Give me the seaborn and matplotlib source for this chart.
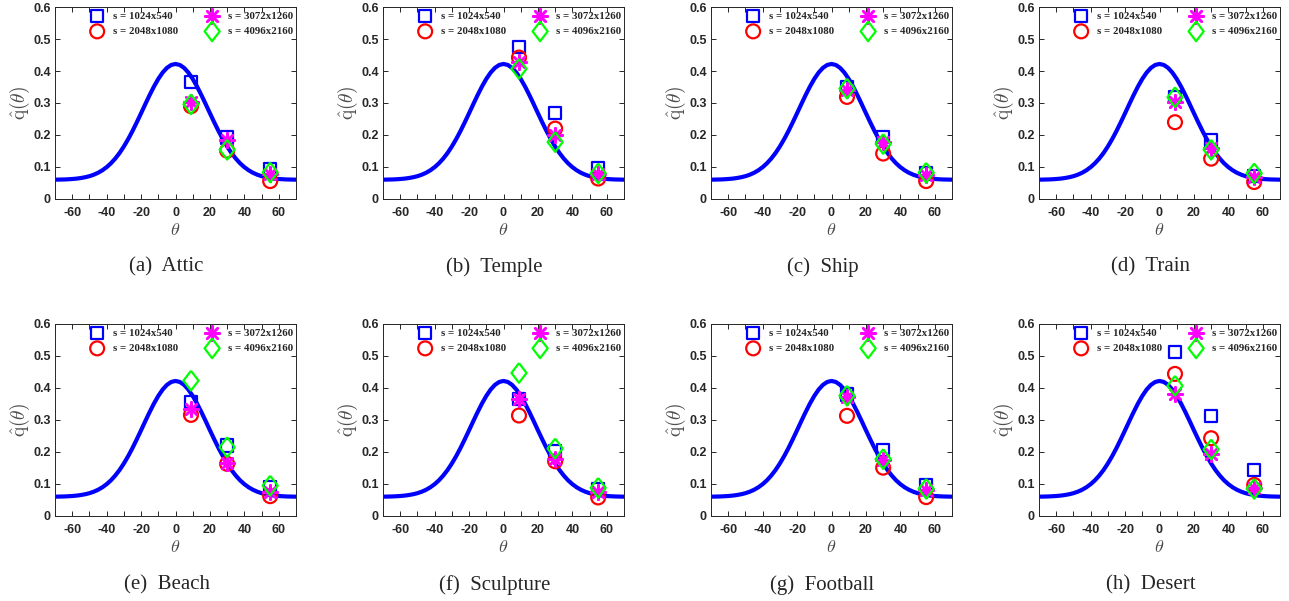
import matplotlib
matplotlib.use("Agg")
import matplotlib.pyplot as plt
import seaborn as sns
import pandas as pd
from matplotlib.ticker import MultipleLocator, FuncFormatter

# ---------------- data ----------------
scenes = ["Attic", "Temple", "Ship", "Train", "Beach", "Sculpture", "Football", "Desert"]
letters = ["a", "b", "c", "d", "e", "f", "g", "h"]
series_labels = ["s = 1024x540", "s = 2048x1080", "s = 3072x1260", "s = 4096x2160"]

theta_pts = [9, 30, 55]

# fitted curve q(theta) (same in every panel)
curve_theta = [-70, -67.5, -65, -62.5, -60, -57.5, -55, -52.5, -50, -47.5, -45, -42.5, -40, -37.5,
               -35, -32.5, -30, -27.5, -25, -22.5, -20, -17.5, -15, -12.5, -10, -7.5, -5, -2.5, 0,
               2.5, 5, 7.5, 10, 12.5, 15, 17.5, 20, 22.5, 25, 27.5, 30, 32.5, 35, 37.5,
               40, 42.5, 45, 47.5, 50, 52.5, 55, 57.5, 60, 62.5, 65, 67.5, 70]
curve_q = [0.0604, 0.0607, 0.0610, 0.0616, 0.0625, 0.0637, 0.0655, 0.0680, 0.0713, 0.0759, 0.0819, 0.0897,
           0.0995, 0.1116, 0.1264, 0.1438, 0.1641, 0.1870, 0.2123, 0.2396, 0.2680, 0.2969, 0.3251, 0.3516,
           0.3752, 0.3949, 0.4097, 0.4189, 0.4220,
           0.4189, 0.4097, 0.3949, 0.3752, 0.3516, 0.3251, 0.2969, 0.2680, 0.2396, 0.2123, 0.1870, 0.1641,
           0.1438, 0.1264, 0.1116, 0.0995, 0.0897, 0.0819, 0.0759, 0.0713, 0.0680, 0.0655, 0.0637, 0.0625,
           0.0616, 0.0610, 0.0607, 0.0604]

# measured points per scene (theta = 9, 30, 55)
q_1024x540 = [[0.365, 0.192, 0.092], [0.475, 0.268, 0.098], [0.350, 0.193, 0.080], [0.318, 0.183, 0.073],
              [0.356, 0.220, 0.090], [0.366, 0.202, 0.085], [0.380, 0.207, 0.098], [0.512, 0.313, 0.143]]
q_2048x1080 = [[0.290, 0.151, 0.056], [0.442, 0.220, 0.064], [0.319, 0.142, 0.056], [0.240, 0.126, 0.053],
               [0.316, 0.163, 0.062], [0.314, 0.171, 0.058], [0.313, 0.151, 0.059], [0.444, 0.243, 0.097]]
q_3072x1260 = [[0.302, 0.184, 0.078], [0.428, 0.200, 0.078], [0.340, 0.178, 0.075], [0.302, 0.158, 0.068],
               [0.334, 0.166, 0.074], [0.366, 0.177, 0.075], [0.371, 0.175, 0.081], [0.382, 0.195, 0.086]]
q_4096x2160 = [[0.296, 0.154, 0.083], [0.407, 0.178, 0.080], [0.345, 0.172, 0.082], [0.318, 0.154, 0.080],
               [0.423, 0.215, 0.095], [0.447, 0.211, 0.088], [0.376, 0.178, 0.085], [0.407, 0.208, 0.085]]

# ---------------- style ----------------
sns.set_style("ticks")
plt.rcParams["font.family"] = ["Liberation Sans", "DejaVu Sans"]
plt.rcParams["mathtext.fontset"] = "cm"

W, H = 1289, 601
fig = plt.figure(figsize=(W / 100, H / 100), dpi=100)

axis_col = "#262626"
label_col = "#4d4d4d"

diamond = [(0, 1), (0.77, 0), (0, -1), (-0.77, 0), (0, 1)]
series_style = [
    dict(marker="s", s=78, color="#0000ff"),
    dict(marker="o", s=100, color="#ff0000"),
    dict(marker=(8, 2, 0), s=110, color="#ff00ff"),
    dict(marker=diamond, s=200, color="#00ff00"),
]
all_series = [q_1024x540, q_2048x1080, q_3072x1260, q_4096x2160]

lefts = [55, 383, 711, 1039]
tops = [7, 324]
aw, ah = 241, 192

curve_df = pd.DataFrame({"theta": curve_theta, "q": curve_q})

for i, scene in enumerate(scenes):
    r, c = divmod(i, 4)
    left = lefts[c] / W
    bottom = 1 - (tops[r] + ah) / H
    ax = fig.add_axes([left, bottom, aw / W, ah / H])

    sns.lineplot(data=curve_df, x="theta", y="q", ax=ax, color="#0000ff", linewidth=3.0,
                 label="_nolegend_", sort=False, solid_joinstyle="round", solid_capstyle="round")

    for vals, st, lab in zip(all_series, series_style, series_labels):
        if isinstance(st["marker"], tuple):
            sns.scatterplot(x=theta_pts, y=vals[i], ax=ax, marker=st["marker"], s=st["s"],
                            color=st["color"], edgecolor=st["color"], linewidth=1.8,
                            label=lab, zorder=3)
        else:
            sns.scatterplot(x=theta_pts, y=vals[i], ax=ax, marker=st["marker"], s=st["s"],
                            facecolor="none", edgecolor=st["color"], linewidth=1.6,
                            label=lab, zorder=3)

    ax.set_xlim(-70, 70)
    ax.set_ylim(0, 0.6)
    ax.xaxis.set_major_locator(MultipleLocator(20))
    ax.xaxis.set_minor_locator(MultipleLocator(10))
    ax.yaxis.set_major_locator(MultipleLocator(0.1))
    ax.yaxis.set_major_formatter(FuncFormatter(lambda v, p: "0" if abs(v) < 1e-9 else f"{v:.1f}"))
    ax.xaxis.set_major_formatter(FuncFormatter(lambda v, p: f"{int(round(v))}"))

    ax.tick_params(which="both", direction="in", top=True, right=True, length=3.5,
                   width=0.7, color=axis_col)
    ax.tick_params(axis="x", which="major", pad=5.5, labelsize=9, labelcolor=axis_col)
    ax.tick_params(axis="y", which="major", pad=3.0, labelsize=9, labelcolor=axis_col)
    for lab in ax.get_xticklabels() + ax.get_yticklabels():
        lab.set_fontweight("bold")
    for sp in ax.spines.values():
        sp.set_visible(True)
        sp.set_color(axis_col)
        sp.set_linewidth(0.7)

    ax.set_xlabel(r"$\theta$", fontsize=13, color=label_col, labelpad=2.5)
    ax.set_ylabel(r"$\hat{\mathrm{q}}(\theta)$", fontsize=14, color=label_col, labelpad=1)

    leg = ax.legend(ncol=2, loc="upper left", bbox_to_anchor=(0.13, 0.99), frameon=False,
                    borderaxespad=0, borderpad=0.2, handlelength=1.6, handletextpad=0.7,
                    columnspacing=2.3, labelspacing=0.55,
                    prop={"family": "Liberation Serif", "weight": "bold", "size": 7.8})

    cx = (lefts[c] + aw / 2 - 9) / W
    cy = 1 - (267 if r == 0 else 585) / H
    fig.text(cx, cy, f"({letters[i]})  {scene}", ha="center", va="center",
             fontsize=15, family="Liberation Serif")

fig.savefig("out.png", dpi=100)
